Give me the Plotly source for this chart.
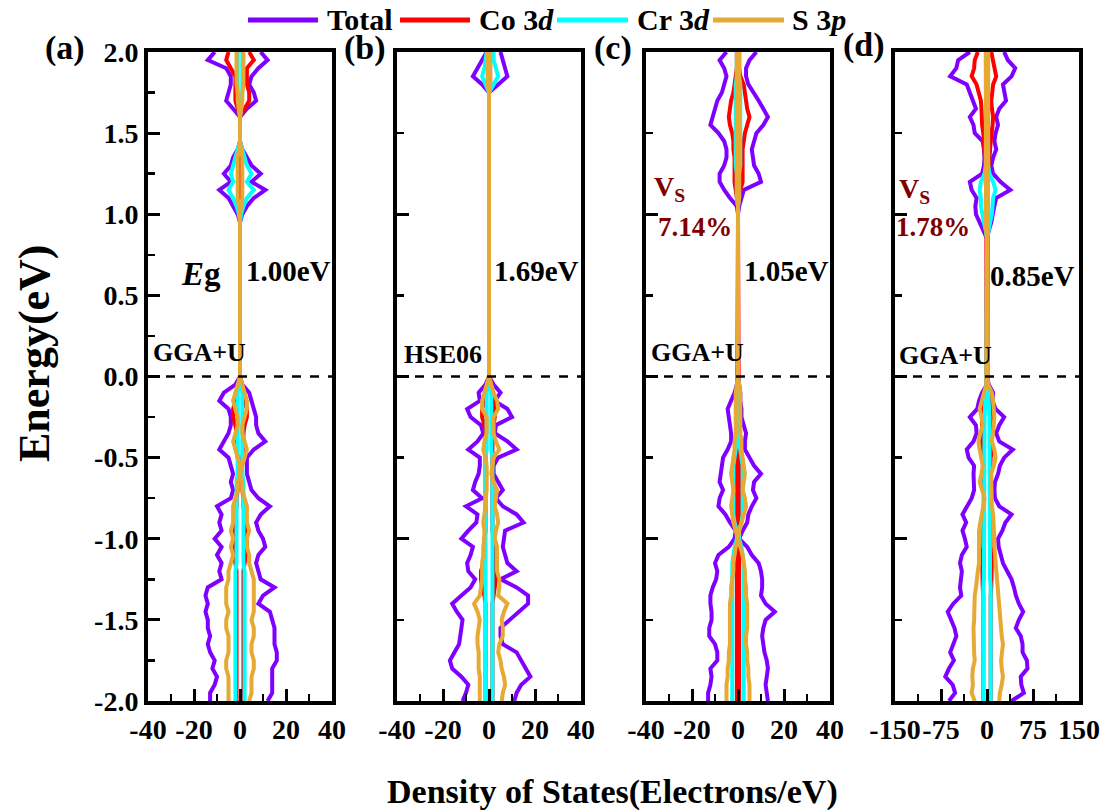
import plotly.graph_objects as go

W, H = 1117, 812

# ---------------- data ----------------
# Energy grid (eV): conduction-band part (2.00 -> 0.80) followed by valence-band part (0.00 -> -2.00)
ENERGY = [2.00, 1.95, 1.90, 1.85, 1.80, 1.75, 1.70, 1.65, 1.60, 1.55, 1.50, 1.45, 1.40, 1.35, 1.30,
          1.25, 1.20, 1.15, 1.10, 1.05, 1.00, 0.95, 0.90, 0.85, 0.80,
          0.00, -0.05, -0.10, -0.15, -0.20, -0.25, -0.30, -0.35, -0.40, -0.45, -0.50, -0.55, -0.60,
          -0.65, -0.70, -0.75, -0.80, -0.85, -0.90, -0.95, -1.00, -1.05, -1.10, -1.15, -1.20, -1.25,
          -1.30, -1.35, -1.40, -1.45, -1.50, -1.55, -1.60, -1.65, -1.70, -1.75, -1.80, -1.85, -1.90,
          -1.95, -2.00]

# ---- panel (a) ----
A_TOTAL_DN = [-11, -14, -6, -4, -4, -5, -6, -3, 0, 0, 0, 0, -1, -3, -4, -7, -4, -9, -5, -3, -1, 0, 0, 0, 0,
              0, -2, -7, -9, -5, -4, -4, -5, -7, -9, -5, -4, -3, -4, -3, -4, -10, -8, -9, -8, -11, -8, -10,
              -8, -9, -8, -14, -15, -14, -15, -14, -14, -13, -14, -13, -11, -12, -10, -11, -13, -13]
A_TOTAL_UP = [9, 12, 8, 5, 4, 6, 7, 3, 0, 0, 0, 0, 1, 3, 5, 9, 5, 11, 6, 3, 1, 0, 0, 0, 0,
              0, 1, 4, 5, 6, 7, 7, 8, 11, 6, 3, 3, 3, 4, 5, 8, 13, 9, 7, 8, 10, 11, 8, 7, 8, 9, 15, 10,
              8, 13, 14, 15, 15, 15, 16, 16, 14, 14, 14, 14, 12]
A_CO_DN = [-5, -6, -4, -2, -2, -2, -2, -1, 0, 0, 0, 0, 0, -0.5, -0.5, -0.5, -0.5, -0.5, -0.5, 0, 0, 0, 0, 0, 0,
           0, -0.5, -1.5, -2, -3, -3, -2, -1.5, -1.5, -1.5, -1, -0.5, -0.5, -1, -1, -1.5, -1.5, -2, -2, -2.5,
           -3, -3, -2.5, -2, -1.5, -1.5, -1.5, -1.5, -1.5, -1.5, -1.5, -1.5, -1.5, -1.5, -1.5, -1.5, -1.5,
           -1.5, -1.5, -1.5, -1.5]
A_CO_UP = [4, 6, 3, 3, 3, 4, 4, 2, 0, 0, 0, 0, 0, 0.5, 0.5, 0.5, 0.5, 0.5, 0.5, 0, 0, 0, 0, 0, 0,
           0, 0.5, 1.5, 2, 3, 3, 2, 1.5, 1.5, 1.5, 1, 0.5, 0.5, 1, 1, 1.5, 1.5, 2, 2, 2.5,
           3, 3, 2.5, 2, 1.5, 1.5, 1.5, 1.5, 1.5, 1.5, 1.5, 1.5, 1.5, 1.5, 1.5, 1.5, 1.5,
           1.5, 1.5, 1.5, 1.5]
A_CR_DN = [-1, -1, -1, -1, -1, -1, -0.5, -0.5, 0, 0, 0, 0, -1, -2, -3, -4, -3, -5, -3, -1.5, -0.5, 0, 0, 0, 0,
           0, -0.5, -1, -1, -1, -1, -1, -1, -1, -1, -1, -1, -1, -1.5, -1.5, -1.5, -1.5, -1.5, -1.5, -1.5,
           -1.5, -1.5, -1.5, -1.5, -2, -2, -2, -2, -2, -2, -2, -2, -2, -2, -2, -2, -2, -2, -2, -2, -2]
A_CR_UP = [1, 1, 1, 1, 1, 1, 0.5, 0.5, 0, 0, 0, 0, 1, 2, 3, 5, 3, 6, 3, 1.5, 0.5, 0, 0, 0, 0,
           0, 0.5, 1, 1, 1, 1, 1, 1, 1, 1, 1, 1, 1, 1.5, 1.5, 1.5, 1.5, 1.5, 1.5, 1.5,
           1.5, 1.5, 1.5, 1.5, 2, 2, 2, 2, 2, 2, 2, 2, 2, 2, 2, 2, 2, 2, 2, 2, 2]
A_S_DN = [-1.5, -1.5, -1.5, -1.5, -1.5, -1, -1, -0.5, 0, 0, 0, 0, -0.5, -1, -1, -1, -1, -1, -1, -0.5, 0, 0, 0, 0, 0,
          0, -1, -2, -3, -2, -1, -1, -2, -3, -2, -1, 0, 0, -1, -1, -2, -3, -3, -3, -4, -3, -4, -3, -4, -5,
          -5, -6, -6, -6, -5, -6, -6, -5, -5, -5, -6, -6, -5, -5, -5, -5]
A_S_UP = [1.5, 1.5, 1.5, 1.5, 1.5, 1, 1, 0.5, 0, 0, 0, 0, 0.5, 1, 1, 1, 1, 1, 1, 0.5, 0, 0, 0, 0, 0,
          0, 1, 2, 3, 3, 2, 1, 1, 2, 3, 2, 1, 0, 1, 1, 2, 3, 3, 3, 4, 3, 3, 4, 4, 5,
          6, 6, 6, 6, 6, 5, 6, 6, 5, 5, 6, 6, 5, 5, 5, 4]

# ---- panel (b) ----
B_TOTAL_DN = [-1, -3, -5, -7, -3, 0, 0, 0, 0, 0, 0, 0, 0, 0, 0, 0, 0, 0, 0, 0, 0, 0, 0, 0, 0,
              0, -1.5, -4.5, -4, -9.5, -8, -3.5, -2.5, -5, -9, -4, -4, -4.5, -6, -7, -3, -10, -5, -5.5, -9,
              -12, -7, -8, -9.5, -9, -6, -8, -12, -16, -14, -11.5, -12, -12.5, -13, -15, -17, -16, -12,
              -9, -10, -11.5]
B_TOTAL_UP = [5, 6, 7, 8, 4, 0, 0, 0, 0, 0, 0, 0, 0, 0, 0, 0, 0, 0, 0, 0, 0, 0, 0, 0, 0,
              0, 2, 5, 2.5, 8, 10, 3, 2.5, 8, 12, 4, 2, 2, 4, 6, 3, 6, 12, 15, 7, 6.5, 6, 7, 8, 12, 5,
              12, 17, 17, 13, 9, 5, 5, 6, 12, 14, 16, 18, 14, 12, 11]
B_CO_DN = [-0.5, -0.5, -0.5, -0.5, -0.5, 0, 0, 0, 0, 0, 0, 0, 0, 0, 0, 0, 0, 0, 0, 0, 0, 0, 0, 0, 0,
           0, -1, -1.5, -2, -3, -3, -2, -1.5, -1.5, -1.5, -1.5, -1.5, -1.5, -1.5, -1.5, -1.5, -1.5, -1.5,
           -1.5, -1.5, -2, -2, -2, -2.5, -3.5, -3.5, -3, -2, -1.5, -1.5, -1.5, -1.5, -1.5, -1.5, -1.5,
           -1.5, -1.5, -1.5, -1.5, -1.5, -1.5]
B_CO_UP = [0.5, 0.5, 0.5, 0.5, 0.5, 0, 0, 0, 0, 0, 0, 0, 0, 0, 0, 0, 0, 0, 0, 0, 0, 0, 0, 0, 0,
           0, 1, 1.5, 2, 2.5, 2.5, 2, 1.5, 1.5, 1.5, 1.5, 1.5, 1.5, 1.5, 1.5, 1.5, 1.5, 1.5,
           1.5, 1.5, 2, 2, 2, 2.5, 3, 3, 2.5, 2, 1.5, 1.5, 1.5, 1.5, 1.5, 1.5, 1.5,
           1.5, 1.5, 1.5, 1.5, 1.5, 1.5]
B_CR_DN = [-1, -1.5, -2, -3, -1.5, 0, 0, 0, 0, 0, 0, 0, 0, 0, 0, 0, 0, 0, 0, 0, 0, 0, 0, 0, 0,
           0, -0.5, -1, -1, -1, -1, -1, -1, -1, -1, -1.5, -1.5, -1.5, -1.5, -1.5, -1.5, -1.5, -1.5, -1.5,
           -1.5, -1.5, -1.5, -1.5, -1.5, -1.5, -1.5, -1.5, -1.5, -1.5, -1.5, -1.5, -1.5, -1.5, -1.5, -1.5,
           -1.5, -1.5, -1.5, -1.5, -1.5, -1.5]
B_CR_UP = [2, 2, 3, 4, 2, 0, 0, 0, 0, 0, 0, 0, 0, 0, 0, 0, 0, 0, 0, 0, 0, 0, 0, 0, 0,
           0, 0.5, 1, 1, 1, 1, 1, 1, 1, 1, 1.5, 1.5, 1.5, 1.5, 1.5, 1.5, 1.5, 1.5, 1.5,
           1.5, 1.5, 1.5, 1.5, 1.5, 1.5, 1.5, 1.5, 1.5, 1.5, 1.5, 1.5, 1.5, 1.5, 1.5, 1.5,
           1.5, 1.5, 1.5, 1.5, 1.5, 1.5]
B_S_DN = [-0.5, -0.5, -0.5, -0.5, -0.5, 0, 0, 0, 0, 0, 0, 0, 0, 0, 0, 0, 0, 0, 0, 0, 0, 0, 0, 0, 0,
          0, -1, -2, -3, -3, -1, -1, -1, -2, -2.5, -1.5, -1, -1, -1, -1, -1.5, -1.5, -2, -2.5, -2, -2,
          -2.5, -2.5, -3, -3, -3, -3.5, -4, -6.5, -5, -4, -4.5, -5, -5, -4.5, -4.5, -4.5, -4, -4, -4, -4]
B_S_UP = [0.5, 0.5, 0.5, 0.5, 0.5, 0, 0, 0, 0, 0, 0, 0, 0, 0, 0, 0, 0, 0, 0, 0, 0, 0, 0, 0, 0,
          0, 1, 2, 3.5, 4, 2, 2, 2, 3, 4.5, 2, 1.5, 1, 2, 3.5, 3, 2.5, 3.5, 4, 3, 2.5, 3.5, 3.5, 3.5,
          3.5, 4.5, 4.5, 4, 8, 6.5, 5.5, 6, 6, 4.5, 4, 5, 5.5, 6.5, 7, 6, 5.5]

# ---- panel (c) ----
C_TOTAL_DN = [-5, -8, -6, -5, -6, -7, -9, -10, -11, -12, -8.5, -6, -5, -5, -6, -8, -8, -6, -3.5, -0.5,
              0, 0, 0, 0, 0,
              0, -0.5, -1.5, -3, -4.5, -4, -3.5, -3, -3, -4.5, -6.5, -7, -7.5, -8, -6.5, -8, -8.5, -5.5,
              -3.5, -1, -1.5, -4, -8.5, -10, -9, -9.5, -11, -12, -12, -11.5, -11.5, -12.5, -12.5, -10,
              -9, -9, -12, -11.5, -12, -13, -13]
C_TOTAL_UP = [8, 5, 3.5, 3.5, 4.5, 7, 9, 11, 13, 11, 8, 7, 6, 6.5, 7, 9, 10, 2.5, 1.5, 0.5, 0, 0, 0, 0, 0,
              0, 0.5, 1, 1, 1.5, 1.5, 2.5, 3.5, 3, 3, 5, 7, 10, 7, 6.5, 8, 6, 4.5, 4, 2, 0.5, 4, 6, 9,
              10, 10.5, 10.5, 10, 12, 16, 12, 11, 10.5, 11, 11.5, 12.5, 13, 12.5, 12, 12.5, 13]
C_CO_DN = [-0.5, -0.5, -0.5, -1, -1.5, -2, -3, -3.5, -4, -3.5, -2.5, -2, -2, -1.5, -1.5, -1.5, -1.5, -1,
           -0.5, 0, 0, 0, 0, 0, 0,
           0, -0.3, -0.5, -0.5, -0.5, -0.5, -0.5, -0.5, -0.5, -0.5, -0.5, -0.5, -0.5, -0.5, -0.5, -0.5,
           -0.5, -0.5, -0.5, -0.5, -0.5, -0.5, -0.5, -0.5, -0.5, -0.5, -0.5, -0.5, -0.5, -0.5, -0.5,
           -0.5, -0.5, -0.5, -0.5, -0.5, -0.5, -0.5, -0.5, -0.5, -0.5]
C_CO_UP = [0.5, 0.5, 0.5, 1, 2.5, 3, 3.5, 4, 5, 4, 3, 2.5, 2, 2, 2, 2, 2, 1, 0.5, 0, 0, 0, 0, 0, 0,
           0, 0.3, 0.5, 0.5, 0.5, 0.5, 0.5, 0.5, 0.5, 0.5, 0.5, 0.5, 0.5, 0.5, 0.5, 0.5,
           0.5, 0.5, 0.5, 0.5, 0.5, 0.5, 0.5, 0.5, 0.5, 0.5, 0.5, 0.5, 0.5, 0.5, 0.5,
           0.5, 0.5, 0.5, 0.5, 0.5, 0.5, 0.5, 0.5, 0.5, 0.5]
C_CR_DN = [-0.5, -0.5, -0.5, -0.5, -1, -1, -1, -1, -1, -1, -1, -1, -1, -1, -1, -0.5, -0.5, -0.5, -0.5,
           0, 0, 0, 0, 0, 0,
           0, -0.5, -0.5, -0.5, -0.5, -0.5, -0.5, -0.5, -0.5, -1, -1.5, -2, -2, -2, -2, -2, -2, -2,
           -1.5, -0.5, -0.5, -1.5, -2, -2.5, -2.5, -2.5, -2.5, -2.5, -2.5, -2.5, -2.5, -2.5, -2.5,
           -2.5, -2.5, -2.5, -2.5, -2.5, -2.5, -2.5, -2.5]
C_CR_UP = [0.5, 0.5, 0.5, 0.5, 1, 1, 1, 1, 1, 1, 1, 1, 1, 1, 1, 0.5, 0.5, 0.5, 0.5,
           0, 0, 0, 0, 0, 0,
           0, 0.5, 0.5, 0.5, 0.5, 0.5, 0.5, 0.5, 0.5, 1, 1.5, 2, 2, 2, 2, 2, 2, 2,
           1.5, 0.5, 0.5, 1.5, 2, 2.5, 2.5, 2.5, 2.5, 2.5, 2.5, 2.5, 2.5, 2.5, 2.5,
           2.5, 2.5, 2.5, 2.5, 2.5, 2.5, 2.5, 2.5]
C_S_DN = [-0.5, -0.5, -0.5, -0.5, -0.5, -0.5, -0.5, -0.5, -0.5, -0.5, -0.5, -0.5, -0.5, -0.5, -0.5,
          -0.5, -0.5, -0.5, -0.5, 0, 0, 0, 0, 0, 0,
          0, -0.5, -1, -1, -1, -1, -1, -1, -1.5, -1.5, -2, -2.5, -3, -2.5, -2, -2.5, -3, -2.5, -2, -1,
          0, -1, -1.5, -2, -2, -2.5, -3, -3, -3.5, -3.5, -3.5, -3.5, -3.5, -3.5, -4, -4, -4.5, -4.5,
          -5, -5, -5]
C_S_UP = [0.5, 0.5, 0.5, 0.5, 0.5, 0.5, 0.5, 0.5, 0.5, 0.5, 0.5, 0.5, 0.5, 0.5, 0.5,
          0.5, 0.5, 0.5, 0.5, 0, 0, 0, 0, 0, 0,
          0, 0.5, 1, 1, 1, 0.7, 0.7, 1, 1.5, 1.5, 2, 2.5, 3, 2.5, 2, 3, 3.5, 2.5, 1.5, 0.5,
          0, 1, 2, 2.5, 3, 3, 3.5, 3.5, 4, 4, 4, 4, 3.5, 3.5, 4, 4, 4.5, 4.5, 5, 5, 5]

# ---- panel (d) ----
D_TOTAL_DN = [-28, -47, -50, -60, -33, -28, -24, -18, -28, -22, -20, -7, -5, -4, -5, -8, -28, -25, -17,
              -19, -18, -12, -6, 0, 0,
              0, 0, -8, -13, -16, -28, -18, -17, -22, -33, -30, -21, -22, -22, -21, -25, -33, -40, -34,
              -40, -36, -33, -41, -44, -41, -43, -44, -42, -55, -64, -59, -53, -50, -55, -60, -54, -62,
              -68, -56, -52, -62]
D_TOTAL_UP = [28, 34, 46, 40, 26, 28, 31, 20, 15, 18, 14, 12, 15, 10, 7, 10, 22, 38, 15, 12, 10, 7, 3, 0, 0,
              0, 3, 10, 9, 14, 28, 20, 15, 20, 42, 28, 21, 18, 13, 12, 13, 20, 40, 30, 25, 18, 19, 22,
              26, 33, 40, 44, 47, 52, 59, 52, 47, 55, 58, 58, 65, 66, 55, 56, 60, 40]
D_CO_DN = [-15, -20, -21, -25, -17, -14, -10, -9, -9, -8, -6, -5, -4, -4, -3, -2, -2, -1, -1, -1, -1, -1,
           -0.5, 0, 0,
           0, -1, -3, -5, -7, -8, -8, -7, -8, -8, -6, -5, -5, -5, -5, -5, -5, -5, -5, -5, -5, -6, -8,
           -8, -8, -8, -7, -6, -6, -6, -6, -6, -6, -6, -6, -6, -6, -6, -6, -6, -6]
D_CO_UP = [7, 10, 13, 15, 10, 8, 7, 8, 10, 9, 7, 6, 5, 4, 3, 2, 2, 1, 1, 1, 1, 1, 0.5, 0, 0,
           0, 1, 3, 5, 7, 8, 8, 7, 8, 8, 6, 5, 5, 5, 5, 5, 5, 5, 5, 5, 5, 6, 8,
           8, 8, 8, 7, 6, 6, 6, 6, 6, 6, 6, 6, 6, 6, 6, 6, 6, 6]
D_CR_DN = [-1, -1, -1, -1, -1, -1, -1, -1, -1, -1, -2, -2, -2, -2, -2, -4, -10, -12, -10, -10, -8, -5,
           -2, 0, 0,
           0, -1, -2, -3, -4, -4, -4, -4, -4, -4, -4, -4, -4, -4, -4, -4, -4, -4, -4, -4, -5, -5, -5,
           -5, -5, -5, -6, -6, -6, -6, -6, -6, -6, -6, -6, -6, -6, -6, -6, -6, -6]
D_CR_UP = [1, 1, 1, 1, 1, 1, 1, 1, 1, 1, 2, 2, 2, 2, 2, 4, 10, 14, 10, 9, 8, 5, 2, 0, 0,
           0, 1, 2, 3, 4, 4, 4, 4, 4, 4, 4, 4, 4, 4, 4, 4, 4, 4, 4, 4, 5, 5, 5,
           5, 5, 5, 6, 6, 6, 6, 6, 6, 6, 6, 6, 6, 6, 6, 6, 6, 6]
D_S_DN = [-2, -2, -2, -2, -2, -2, -2, -2, -2, -2, -2, -2, -2, -2, -2, -2, -2, -2, -2, -2, -2, -2, -1.5,
          0, 0,
          0, -1, -5, -8, -12, -9, -7, -11, -14, -12, -10, -7, -9, -12, -8, -4, -6, -9, -11, -13, -13,
          -12, -12, -13, -15, -16, -18, -20, -20, -20, -21, -22, -22, -22, -21, -20, -23, -24, -23,
          -25, -20]
D_S_UP = [2, 2, 2, 2, 2, 2, 2, 2, 2, 2, 2, 2, 2, 2, 2, 2, 2, 2, 2, 2, 2, 2, 1.5, 0, 0,
          0, 2, 8, 10, 11, 12, 11, 9, 8, 12, 14, 11, 7, 7, 7, 7, 8, 10, 11, 12, 12, 12, 13, 14, 15,
          17, 18, 19, 20, 20, 21, 22, 24, 26, 24, 23, 24, 26, 24, 21, 20]

SERIES_NAMES = ["Total", "Co 3<i>d</i>", "Cr 3<i>d</i>", "S 3<i>p</i>"]
PANEL_LABELS = ["(a)", "(b)", "(c)", "(d)"]
X_TICKS_SMALL = [-40, -20, 0, 20, 40]
X_TICKS_LARGE = [-150, -75, 0, 75, 150]
Y_TICKS = [-2.0, -1.5, -1.0, -0.5, 0.0, 0.5, 1.0, 1.5, 2.0]
GAPS = ["1.00eV", "1.69eV", "1.05eV", "0.85eV"]
METHODS = ["GGA+U", "HSE06", "GGA+U", "GGA+U"]

# ---------------- styling ----------------
COLORS = ["#7F00FF", "#FF0000", "#00FFFF", "#E6A933"]
FONT = "Liberation Serif"
LW = 4

panels = [
    [(A_TOTAL_DN, A_TOTAL_UP), (A_CO_DN, A_CO_UP), (A_CR_DN, A_CR_UP), (A_S_DN, A_S_UP)],
    [(B_TOTAL_DN, B_TOTAL_UP), (B_CO_DN, B_CO_UP), (B_CR_DN, B_CR_UP), (B_S_DN, B_S_UP)],
    [(C_TOTAL_DN, C_TOTAL_UP), (C_CO_DN, C_CO_UP), (C_CR_DN, C_CR_UP), (C_S_DN, C_S_UP)],
    [(D_TOTAL_DN, D_TOTAL_UP), (D_CO_DN, D_CO_UP), (D_CR_DN, D_CR_UP), (D_S_DN, D_S_UP)],
]

x_px = [(148, 332), (397, 581), (646, 830), (895, 1079)]
y_dom = [1 - 701 / H, 1 - 52 / H]

fig = go.Figure()
layout = dict(
    template="none",
    width=W, height=H, autosize=False,
    margin=dict(l=0, r=0, t=0, b=0, autoexpand=False),
    paper_bgcolor="white", plot_bgcolor="white",
    showlegend=False,
    font=dict(family=FONT, color="black", size=26, weight="bold"),
)

shapes = []
annotations = []

for i, series in enumerate(panels):
    xa = "x" if i == 0 else f"x{i+1}"
    ya = "y" if i == 0 else f"y{i+1}"
    for (dn, up), col in zip(series, COLORS):
        for vals in (dn, up):
            fig.add_trace(go.Scatter(x=vals, y=ENERGY, mode="lines", xaxis=xa, yaxis=ya,
                                     line=dict(color=col, width=LW), hoverinfo="skip"))
    big = i == 3
    xticks = X_TICKS_LARGE if big else X_TICKS_SMALL
    xk = "xaxis" if i == 0 else f"xaxis{i+1}"
    yk = "yaxis" if i == 0 else f"yaxis{i+1}"
    layout[xk] = dict(
        domain=[x_px[i][0] / W, x_px[i][1] / W], anchor=ya,
        range=[xticks[0], xticks[-1]], automargin=False,
        tickmode="array", tickvals=xticks, ticktext=[str(v) for v in xticks],
        tickangle=0,
        ticks="inside", ticklen=12, tickwidth=3, tickcolor="black",
        minor=dict(ticks="inside", ticklen=7, tickwidth=2.5, tickcolor="black",
                   dtick=(xticks[1] - xticks[0]) / 2, tick0=0),
        showline=True, linewidth=4, linecolor="black", mirror=True,
        showgrid=False, zeroline=False,
        tickfont=dict(family=FONT, size=28, color="black", weight="bold"),
        fixedrange=True,
    )
    yax = dict(
        domain=y_dom, anchor=xa,
        range=[-2, 2], automargin=False,
        tickmode="array",
        tickvals=Y_TICKS if i == 0 else [-2.0, -1.0, 0.0, 1.0, 2.0],
        showticklabels=(i == 0),
        ticks="inside", ticklen=12, tickwidth=3, tickcolor="black",
        minor=dict(ticks="inside", ticklen=7, tickwidth=2.5, tickcolor="black",
                   dtick=0.25 if i == 0 else 0.5, tick0=0),
        showline=True, linewidth=4, linecolor="black", mirror=True,
        showgrid=False, zeroline=False,
        tickfont=dict(family=FONT, size=28, color="black", weight="bold"),
        fixedrange=True,
    )
    if i == 0:
        yax["ticktext"] = [f"{v:.1f}" for v in Y_TICKS]
    layout[yk] = yax
    # Fermi level dashed line
    shapes.append(dict(type="line", xref=f"{xa} domain", yref=ya, x0=0, x1=1, y0=0, y1=0,
                       line=dict(color="black", width=2.5, dash="dash")))
    # gap & method labels
    gap_cx = [288, 536, 786, 1032][i]
    gap_cy = [271, 271, 271, 276][i]
    annotations.append(dict(text=f"<b>{GAPS[i]}</b>", x=gap_cx / W, y=1 - gap_cy / H,
                            xref="paper", yref="paper", showarrow=False,
                            xanchor="center", yanchor="middle",
                            font=dict(family=FONT, size=29, color="black")))
    m_cx = [199, 443, 697, 945][i]
    m_cy = [353, 354, 353, 355][i]
    annotations.append(dict(text=f"<b>{METHODS[i]}</b>", x=m_cx / W, y=1 - m_cy / H,
                            xref="paper", yref="paper", showarrow=False,
                            xanchor="center", yanchor="middle",
                            font=dict(family=FONT, size=26, color="black")))
    lab_cx = [65, 365, 613, 864][i]
    lab_cy = [48, 48, 48, 45][i]
    annotations.append(dict(text=f"<b>{PANEL_LABELS[i]}</b>", x=lab_cx / W, y=1 - lab_cy / H,
                            xref="paper", yref="paper", showarrow=False,
                            xanchor="center", yanchor="middle",
                            font=dict(family=FONT, size=34, color="black")))

# Eg label
annotations.append(dict(text="<b><i>E</i>g</b>", x=201 / W, y=1 - 274 / H, xref="paper", yref="paper",
                        showarrow=False, xanchor="center", yanchor="middle",
                        font=dict(family=FONT, size=33, color="black")))
# vacancy labels
VS_COLOR = "#800000"
for vx, vy, pct, px in [(652, 188, "7.14%", 695), (897, 190, "1.78%", 933)]:
    annotations.append(dict(text="<b>V<sub>S</sub></b>", x=vx / W, y=1 - vy / H, xref="paper",
                            yref="paper", showarrow=False, xanchor="left", yanchor="middle",
                            font=dict(family=FONT, size=28, color=VS_COLOR)))
    annotations.append(dict(text=f"<b>{pct}</b>", x=px / W, y=1 - 227 / H, xref="paper",
                            yref="paper", showarrow=False, xanchor="center", yanchor="middle",
                            font=dict(family=FONT, size=27, color=VS_COLOR)))

# axis titles
annotations.append(dict(text="<b>Density of States(Electrons/eV)</b>", x=612 / W, y=1 - 792 / H,
                        xref="paper", yref="paper", showarrow=False, xanchor="center",
                        yanchor="middle", font=dict(family=FONT, size=34, color="black")))
annotations.append(dict(text="<b>Energy(eV)</b>", x=35 / W, y=1 - 353 / H, textangle=-90,
                        xref="paper", yref="paper", showarrow=False, xanchor="center",
                        yanchor="middle", font=dict(family=FONT, size=44, color="black")))

# manual legend
leg_lines = [(248, 318), (400, 470), (557, 628), (713, 784)]
leg_text_x = [325, 477, 635, 790]
for (x0, x1), tx, col, name in zip(leg_lines, leg_text_x, COLORS, SERIES_NAMES):
    shapes.append(dict(type="line", xref="paper", yref="paper", x0=x0 / W, x1=x1 / W,
                       y0=1 - 20 / H, y1=1 - 20 / H, line=dict(color=col, width=5)))
    annotations.append(dict(text=f"<b>{name}</b>", x=tx / W, y=1 - 19 / H, xref="paper",
                            yref="paper", showarrow=False, xanchor="left", yanchor="middle",
                            font=dict(family=FONT, size=30, color="black")))

layout["shapes"] = shapes
layout["annotations"] = annotations
fig.update_layout(**layout)

fig.write_html("out.html",
               config={"displayModeBar": False, "staticPlot": True},
               post_script="document.body.style.margin='0px';document.body.style.padding='0px';")
